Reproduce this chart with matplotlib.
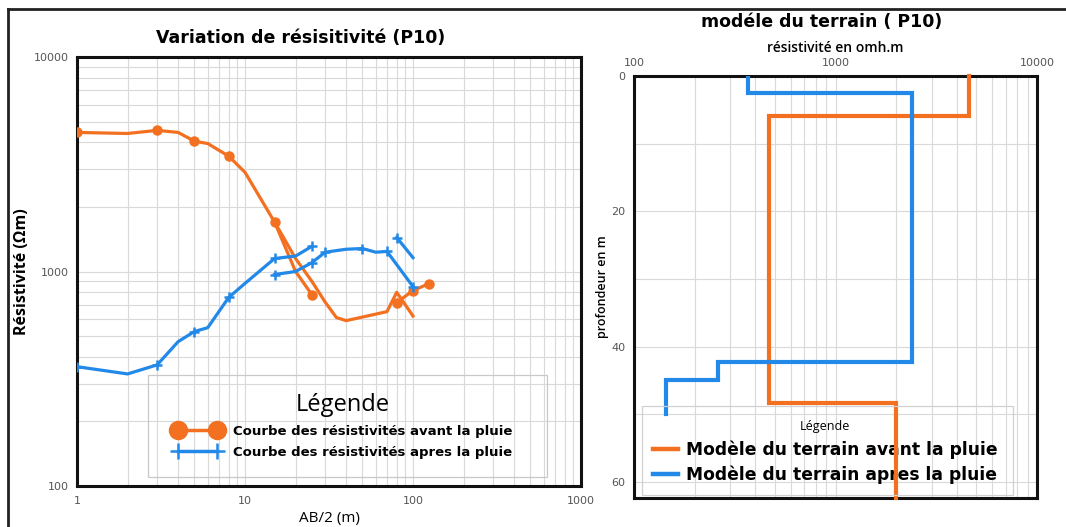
import matplotlib
matplotlib.use("Agg")
import matplotlib.pyplot as plt
from matplotlib.lines import Line2D
from matplotlib.patches import Rectangle
from matplotlib.ticker import LogLocator, NullFormatter, FixedLocator

# ---------------- data ----------------
# Sounding curves (AB/2 in m, apparent resistivity in ohm.m)
avant_x1 = [1, 2, 3, 4, 5, 6, 8, 10, 15, 20, 25]
avant_y1 = [4450, 4400, 4550, 4450, 4050, 3950, 3450, 2900, 1700, 1000, 780]
avant_x2 = [15, 20, 25, 30, 35, 40, 70, 80, 100]
avant_y2 = [1700, 1150, 900, 720, 610, 590, 650, 800, 620]
avant_x3 = [80, 100, 125]
avant_y3 = [716, 815, 879]

apres_x1 = [1, 2, 3, 4, 5, 6, 8, 10, 15, 20, 25]
apres_y1 = [360, 333, 367, 471, 525, 547, 757, 880, 1150, 1180, 1310]
apres_x2 = [15, 20, 25, 30, 40, 50, 60, 70, 100]
apres_y2 = [968, 1000, 1100, 1230, 1270, 1280, 1230, 1240, 850]
apres_x3 = [80, 100]
apres_y3 = [1440, 1160]

# Layered ground models (resistivity, layer top depths, model bottom)
model_avant_rho = [4600, 470, 2000]
model_avant_top = [0, 5.9, 48.4]
model_avant_bottom = 62.4
model_apres_rho = [368, 2400, 260, 144]
model_apres_top = [0, 2.5, 42.3, 44.9]
model_apres_bottom = 50

left_xticks = [1, 10, 100, 1000]
left_yticks = [100, 1000, 10000]
right_xticks = [100, 1000, 10000]
right_yticks = [0, 20, 40, 60]

ORANGE = "#F37021"
BLUE = "#2389E8"
GRID = "#d9d9d9"
TICKC = "#555555"

W, H = 1066, 527
fig = plt.figure(figsize=(W / 100, H / 100), dpi=100)


def fx(px):
    return px / W


def fy(py):
    return 1 - py / H


# ---------------- left panel ----------------
axL = fig.add_axes([fx(77), fy(486), fx(581) - fx(77), fy(57) - fy(486)])
axL.set_xscale("log")
axL.set_yscale("log")
axL.set_xlim(1, 1000)
axL.set_ylim(100, 10000)
axL.set_xticks(left_xticks)
axL.set_xticklabels([str(v) for v in left_xticks])
axL.set_yticks(left_yticks)
axL.set_yticklabels([str(v) for v in left_yticks])
axL.xaxis.set_minor_locator(LogLocator(base=10, subs=range(2, 10)))
axL.yaxis.set_minor_locator(LogLocator(base=10, subs=range(2, 10)))
axL.xaxis.set_minor_formatter(NullFormatter())
axL.yaxis.set_minor_formatter(NullFormatter())
axL.grid(True, which="both", color=GRID, lw=0.8, zorder=0)
axL.tick_params(which="both", length=0, labelsize=8, labelcolor=TICKC)
axL.tick_params(axis="y", pad=6)
axL.tick_params(axis="x", pad=7)
for s in axL.spines.values():
    s.set_linewidth(2.2)
    s.set_color("#111111")

lw = 2.3
axL.plot(avant_x1, avant_y1, color=ORANGE, lw=lw, marker="o", ms=6.5,
         markevery=[0, 2, 4, 6, 8, 10], zorder=3)
axL.plot(avant_x2, avant_y2, color=ORANGE, lw=lw, zorder=3)
axL.plot(avant_x3, avant_y3, color=ORANGE, lw=lw, marker="o", ms=6.5, zorder=3)

axL.plot(apres_x1, apres_y1, color=BLUE, lw=lw, marker="+", ms=7, mew=1.8,
         markevery=[0, 2, 4, 6, 8, 10], zorder=3)
axL.plot(apres_x2, apres_y2, color=BLUE, lw=lw, marker="+", ms=7, mew=1.8,
         markevery=[0, 2, 3, 5, 7, 8], zorder=3)
axL.plot(apres_x3, apres_y3, color=BLUE, lw=lw, marker="+", ms=7, mew=1.8,
         markevery=[0], zorder=3)

axL.set_xlabel("AB/2 (m)", fontsize=11, family="Open Sans", labelpad=4)
axL.set_ylabel("Résistivité (Ωm)", fontsize=11.5, family="Open Sans",
               fontweight="bold", labelpad=3)
fig.text(fx(301), fy(38), "Variation de résisitivité (P10)", ha="center",
         va="center", fontsize=12.5, fontweight="bold", family="DejaVu Sans")

# left legend
fig.patches.append(Rectangle((fx(148), fy(477)), fx(547) - fx(148), fy(375) - fy(477),
                             transform=fig.transFigure, fill=False,
                             edgecolor="#c8c8c8", lw=0.9, zorder=5))
hL = [Line2D([], [], color=ORANGE, lw=2.5, marker="o", ms=6.5),
      Line2D([], [], color=BLUE, lw=2.5, marker="+", ms=5.5, mew=1.8)]
legL = fig.legend(hL, ["Courbe des résistivités avant la pluie",
                       "Courbe des résistivités apres la pluie"],
                  loc="upper center", bbox_to_anchor=(fx(343), fy(381)),
                  frameon=False, numpoints=2, markerscale=2.0,
                  handlelength=3.6, handletextpad=0.9, labelspacing=0.6,
                  prop={"family": "DejaVu Sans", "weight": "bold", "size": 9.5},
                  title="Légende", title_fontproperties={"family": "Open Sans", "size": 17})

# ---------------- right panel ----------------
axR = fig.add_axes([fx(634), fy(498), fx(1037) - fx(634), fy(76) - fy(498)])
axR.set_xscale("log")
axR.set_xlim(100, 10000)
axR.set_ylim(model_avant_bottom, 0)
axR.xaxis.tick_top()
axR.xaxis.set_label_position("top")
axR.set_xticks(right_xticks)
axR.set_xticklabels([str(v) for v in right_xticks])
axR.xaxis.set_minor_locator(LogLocator(base=10, subs=range(2, 10)))
axR.xaxis.set_minor_formatter(NullFormatter())
axR.set_yticks(right_yticks)
axR.yaxis.set_minor_locator(FixedLocator([10, 30, 50]))
axR.grid(True, which="both", color=GRID, lw=0.8, zorder=0)
axR.tick_params(which="both", length=0, labelsize=8, labelcolor=TICKC)
axR.tick_params(axis="x", pad=6)
axR.tick_params(axis="y", pad=6)
for s in axR.spines.values():
    s.set_linewidth(2.2)
    s.set_color("#111111")


def step_path(rho, tops, bottom):
    xs, ys = [], []
    bounds = list(tops[1:]) + [bottom]
    for r, t, b in zip(rho, tops, bounds):
        xs += [r, r]
        ys += [t, b]
    return xs, ys


xa, ya = step_path(model_avant_rho, model_avant_top, model_avant_bottom)
xb, yb = step_path(model_apres_rho, model_apres_top, model_apres_bottom)
axR.plot(xa, ya, color=ORANGE, lw=3, solid_joinstyle="miter", zorder=6, clip_on=False)
axR.plot(xb, yb, color=BLUE, lw=3, solid_joinstyle="miter", zorder=6)

axR.set_xlabel("résistivité en omh.m", fontsize=10, family="Open Sans",
               fontweight="semibold", labelpad=4)
axR.set_ylabel("profondeur en m", fontsize=9, family="Open Sans",
               fontweight="semibold", labelpad=2)
fig.text(fx(822), fy(22), "modéle du terrain ( P10)", ha="center", va="center",
         fontsize=12.5, fontweight="bold", family="DejaVu Sans")

# right legend (inside the axes so the model lines are drawn above it)
fig.patches.append(Rectangle((fx(642), fy(495)), fx(1013) - fx(642), fy(406) - fy(495),
                             transform=fig.transFigure, fill=False,
                             edgecolor="#d0d0d0", lw=0.9, zorder=5))
hR = [Line2D([], [], color=ORANGE, lw=3.2), Line2D([], [], color=BLUE, lw=3.2)]
legR = axR.legend(hR, ["Modèle du terrain avant la pluie",
                       "Modèle du terrain apres la pluie"],
                  loc="upper center", bbox_to_anchor=(fx(825), fy(405)),
                  bbox_transform=fig.transFigure,
                  frameon=False, handlelength=1.5, handletextpad=0.45,
                  labelspacing=0.4,
                  prop={"family": "DejaVu Sans", "weight": "bold", "size": 12.3},
                  title="Légende", title_fontproperties={"family": "Open Sans", "size": 9})
legR.set_zorder(4)

# outer frame lines
fig.add_artist(Line2D([fx(8), fx(8)], [0, fy(9)], transform=fig.transFigure,
                      color="#222222", lw=2))
fig.add_artist(Line2D([fx(8), 1], [fy(9), fy(9)], transform=fig.transFigure,
                      color="#222222", lw=2))

fig.savefig("out.png", dpi=100)
